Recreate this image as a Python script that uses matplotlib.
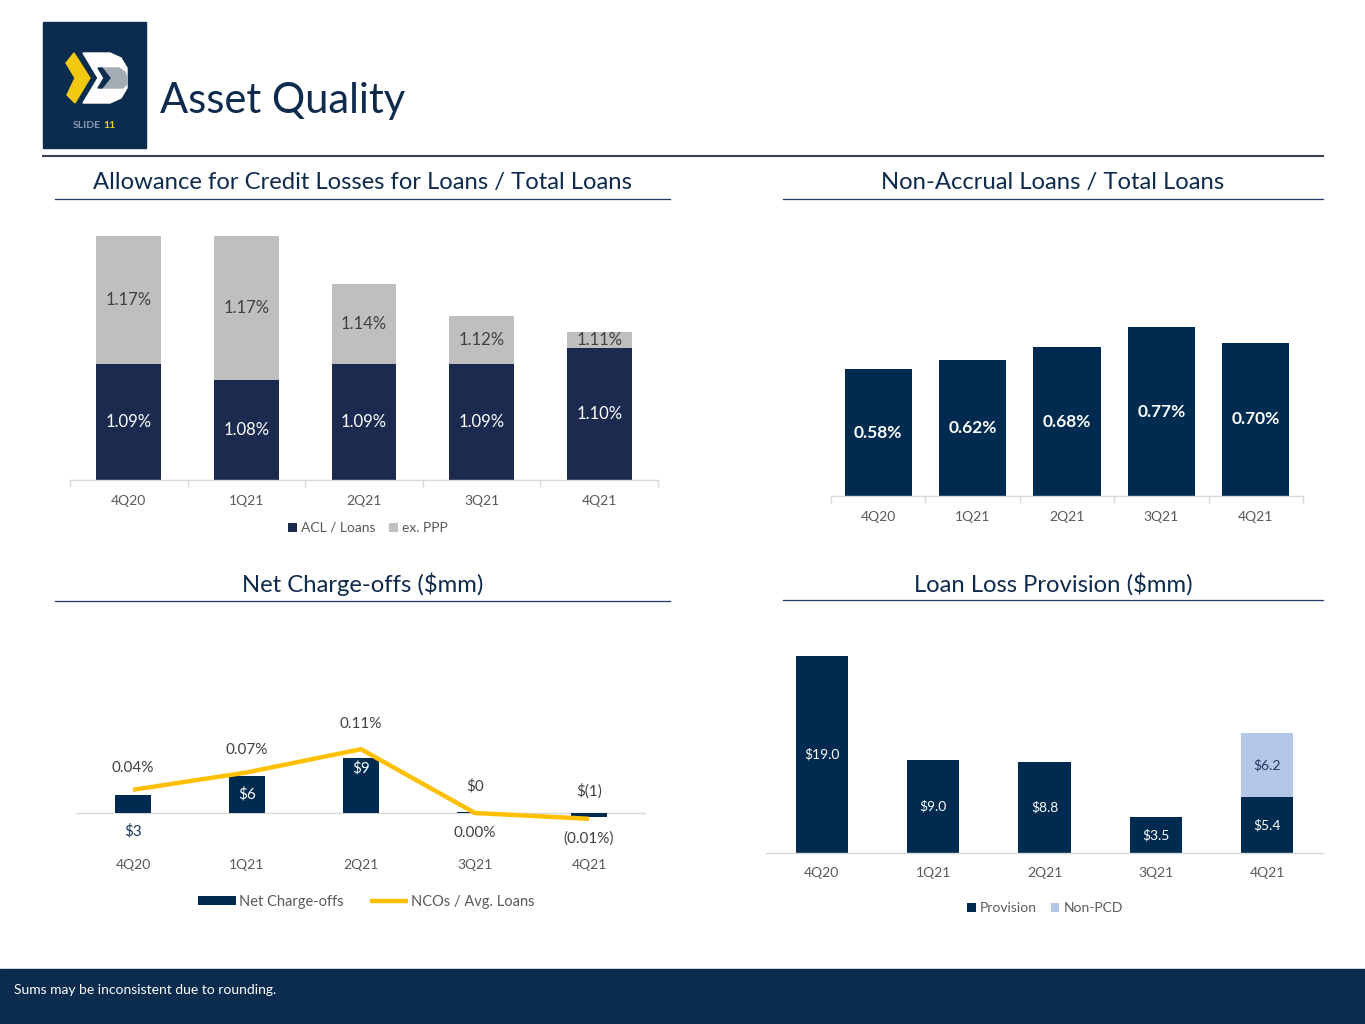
import numpy as np
import matplotlib
matplotlib.use("Agg")
import matplotlib.pyplot as plt
from matplotlib.patches import Rectangle, Polygon
from matplotlib.lines import Line2D

plt.rcParams['font.family'] = ['Lato', 'DejaVu Sans']
plt.rcParams['text.parse_math'] = False

# ---------------- data ----------------
quarters = ['4Q20', '1Q21', '2Q21', '3Q21', '4Q21']
acl_loans = [1.09, 1.08, 1.09, 1.09, 1.10]
acl_ex_ppp = [1.17, 1.17, 1.14, 1.12, 1.11]
nonaccrual = [0.58, 0.62, 0.68, 0.77, 0.70]
nco_values = [3.0, 6.0, 9.0, 0.2, -0.6]
nco_labels = ['$3', '$6', '$9', '$0', '$(1)']
nco_ratio = [0.04, 0.07, 0.11, 0.00, -0.01]
nco_ratio_labels = ['0.04%', '0.07%', '0.11%', '0.00%', '(0.01%)']
provision = [19.0, 9.0, 8.8, 3.5, 5.4]
non_pcd = [0.0, 0.0, 0.0, 0.0, 6.2]

NAVY_BAR = '#002B50'
ACL_NAVY = '#1B2A4E'
GRAY_BAR = '#BFBFBF'
YELLOW = '#FFC000'
LIGHT_BLUE = '#B4C7E7'
TXT = '#595959'
DARK_TXT = '#404040'
AXIS_GRAY = '#D9D9D9'
BOX = '#0B2B4F'

W, H = 1365, 1024
fig = plt.figure(figsize=(W / 100, H / 100), dpi=100)
fig.patch.set_facecolor('white')


def fx(px):
    return px / W


def fy(py):
    return 1 - py / H


def ax_rect(x0, y0, x1, y1):
    return fig.add_axes([fx(x0), fy(y1), fx(x1) - fx(x0), (y1 - y0) / H])


# ---------------- header ----------------
fig.patches.append(Rectangle((fx(43), fy(148)), fx(146) - fx(43), (148 - 22) / H,
                             transform=fig.transFigure, color=BOX, zorder=1))


def logo_pts(pts):
    return [(fx(a), fy(b)) for a, b in pts]


fig.patches.append(Polygon(logo_pts([(66, 63), (74, 53), (90, 78), (75, 103), (67, 95), (75, 78)]),
                           closed=True, transform=fig.transFigure, color='#F2C811', zorder=2))
fig.patches.append(Polygon(logo_pts([(83, 53), (110, 53), (121, 58), (127, 68), (127, 88), (121, 98),
                                     (110, 103), (83, 103), (98, 78)]),
                           closed=True, transform=fig.transFigure, color='white', zorder=2))
fig.patches.append(Polygon(logo_pts([(102, 68), (119, 68), (125, 72), (127, 78), (127, 84),
                                     (123, 88), (102, 88), (110, 78)]),
                           closed=True, transform=fig.transFigure, color='#A3ABB5', zorder=3))
fig.patches.append(Polygon(logo_pts([(98, 68), (102, 68), (110, 78), (102, 88), (98, 88), (104, 78)]),
                           closed=True, transform=fig.transFigure, color=BOX, zorder=4))
fig.text(fx(73), fy(126), 'SLIDE', color='#8A9BB3', fontsize=7.5, fontweight='bold',
         ha='left', va='center', zorder=5)
fig.text(fx(103), fy(126), '11', color='#E3D61B', fontsize=7.5, fontweight='bold',
         ha='left', va='center', zorder=5)

fig.text(fx(160), fy(101), 'Asset Quality', color='#0E2B4E', fontsize=30,
         ha='left', va='center')
fig.add_artist(Line2D([fx(43), fx(1323)], [fy(156), fy(156)], color='#3A4250', lw=1.5))

# section headers
for txt, cx, cy, x0, x1, ly in [
    ('Allowance for Credit Losses for Loans / Total Loans', 362, 183, 55, 670, 199),
    ('Non-Accrual Loans / Total Loans', 1053, 183, 783, 1323, 199),
    ('Net Charge-offs ($mm)', 363, 584, 55, 670, 601),
    ('Loan Loss Provision ($mm)', 1053, 584, 783, 1323, 600),
]:
    fig.text(fx(cx), fy(cy), txt, color='#0E2B4E', fontsize=17.2, ha='center', va='center')
    fig.add_artist(Line2D([fx(x0), fx(x1)], [fy(ly), fy(ly)], color='#1F3864', lw=0.9))

# footer
fig.patches.append(Rectangle((0, 0), 1, (1024 - 969) / H, transform=fig.transFigure,
                             color=BOX, zorder=1))
fig.text(fx(14), fy(990), 'Sums may be inconsistent due to rounding.', color='white',
         fontsize=10, ha='left', va='center', zorder=2)


def style_axis(ax, boundary_ticks=True):
    for s in ['top', 'right', 'left']:
        ax.spines[s].set_visible(False)
    ax.spines['bottom'].set_color(AXIS_GRAY)
    ax.spines['bottom'].set_linewidth(1.0)
    ax.set_yticks([])
    ax.set_xlim(-0.5, 4.5)
    ax.set_xticks(np.arange(5))
    ax.set_xticklabels(quarters)
    ax.tick_params(axis='x', which='major', length=0, labelsize=10, labelcolor=TXT)
    if boundary_ticks:
        ax.set_xticks(np.arange(-0.5, 5.0, 1.0), minor=True)
        ax.tick_params(axis='x', which='minor', length=5, color=AXIS_GRAY, width=1)
    ax.patch.set_alpha(0)


x = np.arange(len(quarters))

# ---------------- chart 1: ACL ----------------
ax1 = ax_rect(70, 192, 658, 480)
ylo1 = 1.0175
ax1.set_ylim(ylo1, ylo1 + 0.18)
acl = np.array(acl_loans)
expp = np.array(acl_ex_ppp)
ax1.bar(x, acl, width=0.55, color=ACL_NAVY, label='ACL / Loans', zorder=2)
ax1.bar(x, expp - acl, bottom=acl, width=0.55, color=GRAY_BAR, label='ex. PPP', zorder=2)
style_axis(ax1)
ax1.tick_params(axis='x', which='major', pad=11)
for i in range(5):
    ax1.text(x[i], (ylo1 + acl[i]) / 2, f'{acl[i]:.2f}%', color='white', fontsize=12,
             ha='center', va='center', zorder=3)
    ax1.text(x[i], (acl[i] + expp[i]) / 2, f'{expp[i]:.2f}%', color=DARK_TXT, fontsize=12,
             ha='center', va='center', zorder=3)
h1, l1 = ax1.get_legend_handles_labels()
fig.legend(h1, l1, loc='center', bbox_to_anchor=(fx(368), fy(528)), ncol=2, frameon=False,
           fontsize=10, labelcolor=TXT, handlelength=0.6, handleheight=0.6, handletextpad=0.3,
           columnspacing=1.0)

# ---------------- chart 2: Non-accrual ----------------
ax2 = ax_rect(831, 299, 1303, 496)
ax2.set_ylim(0, 0.9)
ax2.bar(x, nonaccrual, width=0.71, color=NAVY_BAR, zorder=2)
style_axis(ax2)
ax2.tick_params(axis='x', which='major', pad=11)
for i, v in enumerate(nonaccrual):
    ax2.text(x[i], v / 2, f'{v:.2f}%', color='white', fontsize=12.5, fontweight='bold',
             ha='center', va='center', zorder=3)

# ---------------- chart 3: Net charge-offs ----------------
T3, B3, Z3 = 690, 826, 813
px_per_dollar = 6.1
px_per_pct = 580.0
ax3 = ax_rect(76, T3, 646, B3)
ax3.set_ylim(-(B3 - Z3) / px_per_dollar, (Z3 - T3) / px_per_dollar)
ax3.bar(x, nco_values, width=0.32, color=NAVY_BAR, label='Net Charge-offs', zorder=2)
ax3.axhline(0, color=AXIS_GRAY, lw=1.0, zorder=1)
style_axis(ax3, boundary_ticks=False)
ax3.spines['bottom'].set_visible(False)
ax3.tick_params(axis='x', which='major', pad=24)
ax3b = ax3.twinx()
ax3b.set_ylim(-(B3 - Z3) / px_per_pct, (Z3 - T3) / px_per_pct)
ax3b.plot(x, nco_ratio, color=YELLOW, lw=3.2, label='NCOs / Avg. Loans', zorder=4,
          solid_capstyle='butt')
ax3b.set_yticks([])
for s in ax3b.spines.values():
    s.set_visible(False)

bar_lab_off = [-18, 0, 0, 27, 22]          # pixel offsets of bar labels
bar_lab_color = ['#1F3864', 'white', 'white', DARK_TXT, DARK_TXT]
bar_lab_anchor = ['zero', 'mid', 'top', 'zero', 'zero']
for i in range(5):
    v = nco_values[i]
    if bar_lab_anchor[i] == 'zero':
        yv = 0
    elif bar_lab_anchor[i] == 'mid':
        yv = v / 2
    else:
        yv = v - 10 / px_per_dollar
    ax3.annotate(nco_labels[i], (x[i], yv), xytext=(0, bar_lab_off[i] * 0.72),
                 textcoords='offset points', ha='center', va='center', fontsize=11,
                 color=bar_lab_color[i], zorder=5)
line_lab_off = [22, 22, 25, -20, -20]
for i in range(5):
    ax3b.annotate(nco_ratio_labels[i], (x[i], nco_ratio[i]), xytext=(0, line_lab_off[i] * 0.72),
                  textcoords='offset points', ha='center', va='center', fontsize=11,
                  color=DARK_TXT, zorder=5)
h3a, l3a = ax3.get_legend_handles_labels()
h3b, l3b = ax3b.get_legend_handles_labels()
fig.legend(h3a + h3b, l3a + l3b, loc='center', bbox_to_anchor=(fx(366), fy(902)), ncol=2,
           frameon=False, fontsize=10.5, labelcolor=TXT, handlelength=2.6, handleheight=0.6,
           handletextpad=0.2, columnspacing=1.8)

# ---------------- chart 4: Provision ----------------
T4, Z4 = 640, 853
px_per_prov = 10.35
ax4 = ax_rect(766, T4, 1323, Z4)
ax4.set_ylim(0, (Z4 - T4) / px_per_prov)
prov = np.array(provision)
npcd = np.array(non_pcd)
ax4.bar(x, prov, width=0.47, color=NAVY_BAR, label='Provision', zorder=2)
ax4.bar(x, npcd, bottom=prov, width=0.47, color=LIGHT_BLUE, label='Non-PCD', zorder=2)
style_axis(ax4, boundary_ticks=False)
ax4.tick_params(axis='x', which='major', pad=10)
for i in range(5):
    ax4.text(x[i], prov[i] / 2, f'${prov[i]:.1f}', color='white', fontsize=10,
             ha='center', va='center', zorder=3)
    if npcd[i] > 0:
        ax4.text(x[i], prov[i] + npcd[i] / 2, f'${npcd[i]:.1f}', color='#1F3864', fontsize=10,
                 ha='center', va='center', zorder=3)
h4, l4 = ax4.get_legend_handles_labels()
fig.legend(h4, l4, loc='center', bbox_to_anchor=(fx(1045), fy(908)), ncol=2, frameon=False,
           fontsize=10, labelcolor=TXT, handlelength=0.6, handleheight=0.6, handletextpad=0.3,
           columnspacing=1.0)

fig.savefig('out.png', dpi=100)
